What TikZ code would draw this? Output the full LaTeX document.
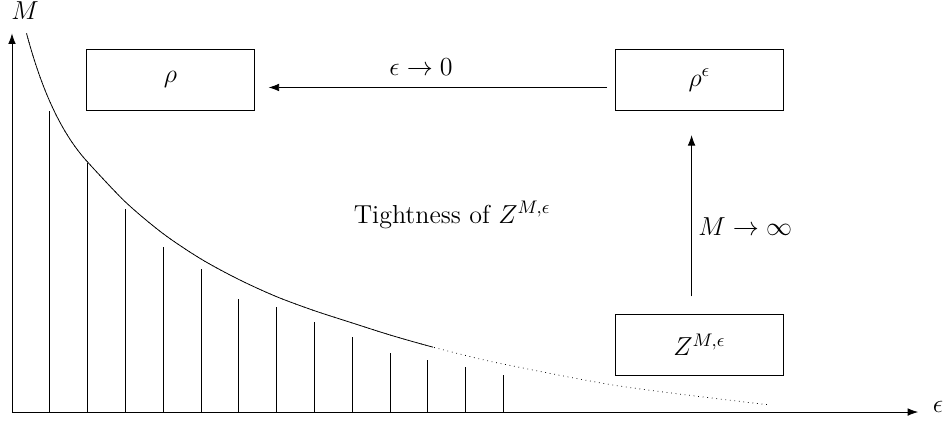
\RequirePackage{fix-cm}
\documentclass[tikz,border=0pt]{standalone}
\usepackage{amsmath}
\usetikzlibrary{arrows.meta}

\begin{document}
\begin{tikzpicture}[>={Latex[length=5.5pt,width=4pt]},
  every node/.style={font=\fontsize{13.7}{16}\selectfont},
  limitbox/.style={draw, minimum width=3.1cm, minimum height=1.13cm}]
\useasboundingbox (-0.222,-0.204) rectangle (17.278,7.63);
\coordinate (O) at (0,0);
\coordinate (E) at (16.78,0);
\coordinate (T) at (0,7.01);
\draw[->] (O)--(E);
\draw[->] (O)--(T);
\node (epslbl) at (17.15,0.09) {$\epsilon$};
\node (Mlbl) at (0.24,7.44) {$M$};

% bound curve, solid part clipped over the dotted one
\def\boundcurve{(0.27,7.01) .. controls (0.49,6.19) and (0.82,5.27) .. (1.39,4.64)
  plot[smooth] coordinates {(1.39,4.64) (2.09,3.90) (2.79,3.31) (3.49,2.84) (4.19,2.46)
  (4.89,2.14) (5.59,1.88) (6.30,1.65) (6.99,1.43) (7.69,1.23) (8.39,1.05) (9.09,0.89)
  (11.26,0.48) (14.04,0.13)}}
\draw[dotted] \boundcurve;
\begin{scope}
\clip (-1,-1) rectangle (7.8,8);
\draw \boundcurve;
\end{scope}

% the M-levels
\foreach \k/\h in {1/5.58, 2/4.61, 3/3.76, 4/3.06, 5/2.64, 6/2.09, 7/1.94,
                   8/1.66, 9/1.39, 10/1.10, 11/0.97, 12/0.83, 13/0.69}
  \draw (0.7*\k,0) -- (0.7*\k,\h);

\node[limitbox] (rho) at (2.935,6.15) {$\rho$};
\node[limitbox] (rhoeps) at (12.73,6.15) {$\rho^\epsilon$};
\node[limitbox] (Zme) at (12.73,1.25) {$Z^{M,\epsilon}$};
\node (tight) at (8.15,3.65) {Tightness of $Z^{M,\epsilon}$};

\draw[->] ([xshift=-0.15cm,yshift=-0.14cm]rhoeps.west) --
  node[above=3pt,pos=0.55] {$\epsilon\to0$} ([xshift=0.26cm,yshift=-0.14cm]rho.east);
\draw[->] ([xshift=-0.145cm,yshift=0.32cm]Zme.north) --
  node[right,pos=0.43] {$M\to\infty$} ([xshift=-0.145cm,yshift=-0.45cm]rhoeps.south);

\end{tikzpicture}
\end{document}
